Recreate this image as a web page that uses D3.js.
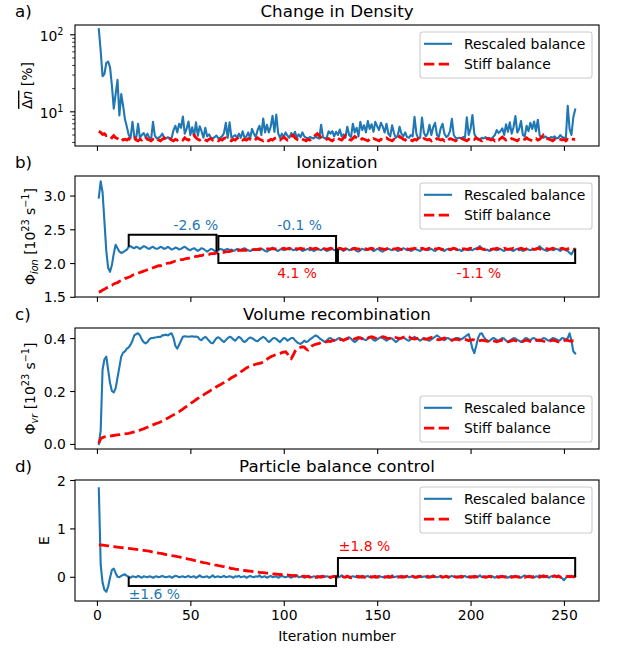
<!DOCTYPE html>
<html><head><meta charset="utf-8">
<script src="https://cdn.jsdelivr.net/npm/d3@7"></script>
<style>
body{margin:0;background:#fff;}
text{font-family:"DejaVu Sans",sans-serif;}
</style></head><body>
<svg id="chart" width="619" height="650"></svg>
<script>
// ---------------- DATA ----------------
const iterations = d3.range(1, 257);
const xTicks = [0, 50, 100, 150, 200, 250];
const seriesNames = ["Rescaled balance", "Stiff balance"];
const panelTitles = ["Change in Density", "Ionization", "Volume recombination", "Particle balance control"];
const panelLetters = ["a)", "b)", "c)", "d)"];

const densityRescaled = [
118,62,29,31,43,45,38,22,11,17,26,9,17,12,8,6.4,
5.0,4.6,7.4,4.8,4.5,7.0,4.6,5.0,5.3,4.7,5.2,4.6,4.4,7.4,4.9,4.5,
4.6,4.8,5.2,4.6,4.5,4.7,4.4,4.6,5.8,6.6,5.4,7.0,6.2,8.7,5.2,6.0,
7.5,5.0,6.3,4.8,7.3,4.9,6.5,5.6,4.6,6.2,4.8,5.1,4.6,4.5,4.7,4.9,
4.5,4.6,4.8,5.3,7.2,4.6,7.3,4.6,4.8,5.0,4.6,5.2,4.6,5.6,4.6,4.8,
5.4,4.5,6.0,5.2,4.7,5.8,6.6,5.0,8.2,5.4,6.8,5.4,6.4,8.9,5.5,9.2,
5.3,4.6,5.2,4.7,5.4,4.9,4.6,5.3,4.8,5.5,4.6,5.1,4.7,5.4,4.8,4.6,
4.5,4.7,4.6,4.5,4.8,4.6,4.5,6.8,4.7,4.5,4.6,5.6,5.2,5.6,4.8,5.5,
5.0,5.9,4.8,5.1,4.6,6.4,5.0,4.7,7.0,5.4,6.2,4.8,7.4,5.8,6.7,5.4,
7.6,6.0,6.9,5.5,7.4,6.5,5.8,7.2,6.4,5.4,7.0,5.2,4.8,6.7,5.3,4.6,
4.9,6.4,5.2,4.8,5.4,4.7,4.6,5.0,4.8,8.6,5.2,4.5,4.6,8.4,5.4,4.8,
5.2,6.8,5.0,6.3,7.2,5.0,4.7,6.1,7.0,5.2,4.7,4.9,5.6,8.1,5.0,4.6,
4.5,4.6,4.5,4.7,4.6,8.5,5.0,6.0,9.1,5.2,4.6,4.5,4.4,4.6,4.5,4.7,
4.5,4.6,4.4,4.7,5.0,5.8,5.3,5.6,6.1,5.0,6.9,5.5,7.3,5.2,6.3,8.8,
5.4,6.0,7.6,5.0,4.8,6.6,5.6,7.2,6.0,7.5,5.6,7.9,4.9,4.7,4.6,4.8,
4.6,4.5,4.7,4.6,4.8,4.5,4.6,5.0,4.7,4.6,4.5,12.0,6.0,5.0,8.5,10.7];

const densityStiff = [
5.6,5.4,5.1,5.2,4.9,5.0,4.8,4.6,4.9,4.6,4.5,4.4,4.6,4.3,4.4,4.3,
4.5,4.3,4.4,4.6,4.3,4.2,4.4,4.3,4.5,4.7,4.4,4.3,4.2,4.4,4.3,4.5,
4.3,4.2,4.4,4.6,4.4,4.3,4.5,4.3,4.2,4.4,4.3,4.5,4.4,4.3,4.6,4.4,
4.3,4.5,4.8,5.0,4.6,4.4,4.3,4.5,4.4,4.3,4.2,4.4,4.5,4.3,4.4,4.3,
4.2,4.4,4.3,4.5,4.6,4.4,4.3,4.2,4.4,4.3,4.5,4.7,4.5,4.3,4.4,4.3,
4.5,4.4,4.3,4.2,4.4,4.6,4.4,4.3,4.2,4.4,4.3,4.2,4.4,4.3,4.5,4.6,
4.4,4.3,4.5,4.7,4.5,4.3,4.4,4.8,5.0,4.6,4.4,4.3,4.5,4.4,4.3,4.2,
4.4,4.3,4.5,4.7,5.0,5.2,4.9,4.6,4.4,4.3,4.4,4.5,4.3,4.2,4.4,4.3,
4.5,4.4,4.3,4.6,4.9,4.6,4.4,4.3,4.5,4.8,4.6,4.4,4.3,4.5,4.4,4.3,
4.2,4.4,4.3,4.5,4.4,4.3,4.2,4.4,4.3,4.5,4.6,4.4,4.3,4.2,4.4,4.3,
4.5,4.8,4.6,4.4,4.3,4.5,4.4,4.3,4.2,4.4,4.3,4.5,4.4,4.3,4.5,4.4,
4.3,4.4,4.2,4.4,4.3,4.5,4.4,4.3,4.4,4.2,4.4,4.3,4.5,4.4,4.3,4.2,
4.4,4.3,4.5,4.4,4.3,4.2,4.4,4.3,4.5,4.4,4.6,4.4,4.3,4.2,4.4,4.3,
4.5,4.4,4.3,4.4,4.2,4.4,4.3,4.5,4.7,4.5,4.3,4.4,4.3,4.5,4.4,4.3,
4.2,4.4,4.3,4.5,4.4,4.6,4.4,4.3,4.2,4.4,4.5,4.3,4.4,4.7,5.0,4.7,
4.5,4.4,4.3,4.2,4.4,4.3,4.5,4.4,4.3,4.4,4.2,4.4,4.3,4.5,4.4,4.4];

const ionRescaled = [
2.97,3.21,3.05,2.62,2.18,1.93,1.87,1.97,2.14,2.27,2.22,2.17,2.15,2.16,2.18,2.20,
2.24,2.25,2.23,2.22,2.24,2.23,2.21,2.23,2.25,2.24,2.22,2.21,2.23,2.24,2.22,2.21,
2.22,2.24,2.23,2.21,2.22,2.24,2.22,2.20,2.21,2.23,2.22,2.20,2.21,2.23,2.24,2.22,
2.20,2.19,2.21,2.22,2.20,2.18,2.20,2.22,2.21,2.19,2.17,2.19,2.21,2.20,2.18,2.17,
2.19,2.21,2.20,2.19,2.20,2.21,2.19,2.20,2.18,2.19,2.21,2.20,2.19,2.21,2.22,2.20,
2.19,2.18,2.19,2.20,2.21,2.20,2.19,2.21,2.20,2.18,2.17,2.19,2.20,2.23,2.21,2.19,
2.18,2.20,2.21,2.19,2.20,2.21,2.20,2.21,2.19,2.20,2.19,2.21,2.20,2.18,2.19,2.20,
2.21,2.19,2.20,2.18,2.19,2.21,2.20,2.19,2.21,2.20,2.18,2.19,2.20,2.21,2.19,2.20,
2.19,2.21,2.20,2.18,2.20,2.21,2.19,2.20,2.22,2.20,2.18,2.17,2.19,2.21,2.20,2.19,
2.20,2.22,2.20,2.18,2.19,2.21,2.20,2.18,2.17,2.19,2.20,2.21,2.20,2.19,2.21,2.20,
2.18,2.19,2.20,2.22,2.21,2.19,2.20,2.18,2.19,2.21,2.20,2.19,2.18,2.20,2.21,2.20,
2.19,2.20,2.21,2.19,2.18,2.20,2.21,2.20,2.19,2.18,2.20,2.21,2.19,2.20,2.21,2.20,
2.19,2.20,2.18,2.19,2.21,2.20,2.19,2.20,2.19,2.21,2.21,2.23,2.25,2.22,2.20,2.19,
2.20,2.18,2.19,2.21,2.20,2.19,2.20,2.21,2.19,2.18,2.20,2.21,2.20,2.19,2.18,2.20,
2.21,2.19,2.20,2.18,2.19,2.21,2.20,2.19,2.20,2.21,2.20,2.22,2.25,2.22,2.20,2.19,
2.18,2.20,2.21,2.19,2.20,2.21,2.20,2.18,2.20,2.21,2.19,2.18,2.15,2.13,2.18,2.21];

const ionStiff = [
1.57,1.58,1.60,1.61,1.63,1.64,1.66,1.67,1.69,1.70,1.71,1.73,1.74,1.75,1.77,1.78,
1.79,1.80,1.82,1.83,1.84,1.85,1.86,1.87,1.88,1.89,1.90,1.91,1.92,1.93,1.94,1.95,
1.96,1.96,1.97,1.98,1.99,2.00,2.00,2.01,2.02,2.03,2.03,2.04,2.05,2.05,2.06,2.07,
2.07,2.08,2.08,2.09,2.10,2.10,2.11,2.11,2.12,2.12,2.13,2.13,2.14,2.14,2.14,2.15,
2.15,2.16,2.16,2.16,2.17,2.17,2.17,2.18,2.18,2.18,2.18,2.19,2.19,2.19,2.19,2.19,
2.20,2.20,2.20,2.20,2.20,2.20,2.21,2.21,2.21,2.21,2.21,2.21,2.21,2.21,2.21,2.21,
2.21,2.21,2.21,2.22,2.21,2.21,2.22,2.21,2.21,2.22,2.21,2.21,2.22,2.21,2.21,2.22,
2.21,2.22,2.21,2.21,2.22,2.21,2.20,2.21,2.22,2.21,2.20,2.21,2.22,2.21,2.20,2.21,
2.21,2.22,2.21,2.20,2.21,2.22,2.21,2.20,2.21,2.22,2.21,2.21,2.20,2.21,2.22,2.21,
2.20,2.21,2.22,2.21,2.20,2.21,2.22,2.21,2.21,2.20,2.21,2.22,2.21,2.20,2.21,2.21,
2.22,2.21,2.20,2.21,2.22,2.21,2.20,2.21,2.21,2.22,2.21,2.20,2.21,2.22,2.21,2.20,
2.21,2.22,2.21,2.20,2.21,2.21,2.22,2.21,2.20,2.21,2.22,2.21,2.20,2.21,2.22,2.21,
2.20,2.21,2.22,2.21,2.21,2.20,2.21,2.22,2.21,2.20,2.21,2.21,2.22,2.21,2.20,2.21,
2.22,2.21,2.20,2.21,2.21,2.22,2.21,2.20,2.21,2.22,2.21,2.20,2.21,2.21,2.22,2.21,
2.20,2.21,2.22,2.21,2.20,2.21,2.22,2.21,2.21,2.20,2.21,2.22,2.21,2.20,2.21,2.22,
2.21,2.20,2.21,2.22,2.21,2.20,2.21,2.21,2.22,2.21,2.20,2.21,2.22,2.21,2.20,2.21];

const recRescaled = [
0.0,0.05,0.28,0.32,0.33,0.28,0.23,0.20,0.195,0.21,0.25,0.29,0.33,0.345,0.35,0.36,
0.365,0.375,0.39,0.41,0.415,0.418,0.41,0.395,0.385,0.38,0.385,0.395,0.40,0.40,0.402,0.403,
0.405,0.404,0.41,0.411,0.413,0.41,0.415,0.418,0.40,0.37,0.36,0.375,0.39,0.405,0.407,0.406,
0.405,0.406,0.407,0.405,0.406,0.404,0.395,0.392,0.40,0.405,0.398,0.39,0.382,0.38,0.39,0.40,
0.403,0.398,0.39,0.385,0.392,0.40,0.405,0.402,0.395,0.39,0.398,0.405,0.40,0.39,0.385,0.39,
0.398,0.402,0.40,0.395,0.39,0.388,0.395,0.40,0.405,0.40,0.392,0.385,0.39,0.398,0.40,0.397,
0.39,0.385,0.393,0.40,0.398,0.39,0.395,0.40,0.40,0.392,0.385,0.38,0.378,0.383,0.39,0.385,
0.388,0.395,0.40,0.405,0.41,0.407,0.40,0.395,0.39,0.385,0.39,0.398,0.40,0.395,0.39,0.393,
0.398,0.40,0.395,0.39,0.395,0.40,0.403,0.398,0.39,0.385,0.39,0.398,0.402,0.40,0.395,0.392,
0.398,0.405,0.40,0.393,0.39,0.395,0.40,0.403,0.40,0.395,0.39,0.395,0.40,0.398,0.392,0.385,
0.39,0.397,0.40,0.402,0.398,0.393,0.39,0.395,0.40,0.405,0.40,0.395,0.39,0.395,0.40,0.398,
0.393,0.39,0.395,0.40,0.405,0.41,0.405,0.40,0.395,0.392,0.398,0.40,0.395,0.39,0.395,0.40,
0.40,0.398,0.395,0.40,0.405,0.41,0.415,0.39,0.36,0.343,0.37,0.40,0.415,0.418,0.405,0.395,
0.39,0.388,0.395,0.40,0.398,0.393,0.39,0.395,0.40,0.398,0.39,0.385,0.39,0.395,0.40,0.398,
0.393,0.39,0.385,0.39,0.398,0.40,0.395,0.392,0.398,0.40,0.396,0.39,0.388,0.395,0.40,0.398,
0.393,0.39,0.395,0.40,0.398,0.395,0.39,0.393,0.40,0.398,0.395,0.40,0.418,0.39,0.35,0.342];

const recStiff = [
0.003,0.02,0.024,0.027,0.028,0.029,0.030,0.031,0.032,0.033,0.034,0.035,0.036,0.037,0.038,0.039,
0.040,0.042,0.044,0.046,0.048,0.050,0.052,0.055,0.057,0.060,0.063,0.066,0.069,0.072,0.075,0.078,
0.080,0.083,0.086,0.090,0.094,0.098,0.102,0.106,0.110,0.114,0.118,0.122,0.127,0.132,0.137,0.142,
0.147,0.152,0.157,0.162,0.167,0.172,0.176,0.181,0.185,0.190,0.194,0.198,0.203,0.207,0.211,0.216,
0.220,0.224,0.228,0.232,0.236,0.240,0.245,0.250,0.254,0.258,0.262,0.267,0.272,0.277,0.282,0.287,
0.291,0.294,0.297,0.299,0.301,0.303,0.304,0.306,0.310,0.315,0.320,0.325,0.329,0.332,0.335,0.338,
0.340,0.342,0.345,0.347,0.348,0.340,0.325,0.322,0.335,0.350,0.358,0.362,0.365,0.367,0.366,0.358,
0.355,0.362,0.370,0.374,0.376,0.378,0.380,0.383,0.385,0.384,0.386,0.388,0.387,0.390,0.392,0.391,
0.393,0.395,0.394,0.392,0.395,0.398,0.40,0.398,0.395,0.397,0.40,0.402,0.40,0.397,0.395,0.398,
0.40,0.403,0.405,0.403,0.40,0.398,0.40,0.403,0.405,0.404,0.40,0.398,0.40,0.403,0.405,0.402,
0.40,0.398,0.40,0.403,0.405,0.407,0.405,0.40,0.398,0.396,0.398,0.40,0.402,0.40,0.397,0.395,
0.397,0.40,0.402,0.40,0.397,0.395,0.393,0.395,0.398,0.40,0.398,0.395,0.393,0.392,0.394,0.396,
0.395,0.393,0.392,0.394,0.395,0.393,0.39,0.392,0.394,0.393,0.39,0.388,0.39,0.392,0.391,0.389,
0.388,0.39,0.392,0.39,0.388,0.386,0.388,0.39,0.392,0.39,0.388,0.386,0.387,0.39,0.392,0.39,
0.388,0.386,0.385,0.387,0.39,0.392,0.39,0.387,0.385,0.387,0.39,0.392,0.393,0.39,0.388,0.386,
0.385,0.387,0.39,0.392,0.39,0.388,0.386,0.385,0.387,0.39,0.392,0.391,0.389,0.388,0.39,0.39];

const controlRescaled = [
1.83,0.25,-0.12,-0.27,-0.31,-0.20,-0.02,0.14,0.17,0.08,0.0,-0.01,0.02,0.04,0.05,0.02,
0.0,-0.02,0.01,0.0,-0.01,0.02,0.0,-0.02,0.01,0.0,-0.01,0.01,0.0,-0.02,0.0,0.01,
-0.01,0.0,0.02,0.0,-0.01,0.0,0.01,-0.02,0.0,0.02,0.01,-0.01,0.0,0.01,-0.01,0.0,
0.02,-0.01,0.0,0.01,-0.02,0.0,0.03,0.0,-0.01,0.0,0.01,-0.02,0.0,0.03,-0.01,0.0,
0.01,-0.01,0.0,0.02,-0.01,0.0,0.01,0.0,-0.02,0.01,0.0,0.02,-0.01,0.0,0.01,-0.02,
0.0,0.02,0.0,-0.01,0.01,0.0,0.03,-0.01,0.0,0.01,-0.02,0.0,0.02,-0.01,0.0,0.01,
-0.02,0.0,0.02,0.0,-0.01,0.01,0.0,-0.02,0.01,0.0,0.03,-0.01,0.0,0.01,-0.02,0.0,
0.02,0.0,-0.01,0.01,0.0,-0.02,0.0,0.02,-0.01,0.0,0.01,0.0,-0.02,0.01,0.0,0.02,
-0.01,0.0,0.03,-0.01,0.0,0.02,-0.02,0.0,0.01,0.0,-0.01,0.02,0.0,-0.02,0.01,0.0,
0.02,-0.01,0.0,0.01,-0.02,0.0,0.02,0.0,-0.01,0.01,0.0,-0.02,0.0,0.03,-0.01,0.0,
0.01,0.0,-0.02,0.01,0.0,0.02,-0.01,0.0,0.01,-0.02,0.0,0.02,0.0,-0.01,0.01,0.0,
-0.02,0.0,0.01,0.03,0.0,-0.01,0.0,0.02,-0.01,0.0,0.01,-0.02,0.0,0.02,0.0,-0.01,
0.01,0.0,-0.02,0.0,0.02,-0.01,0.0,0.01,0.0,-0.02,0.01,0.0,0.03,-0.01,0.0,0.01,
-0.01,0.0,0.02,0.0,-0.02,0.01,0.0,0.02,-0.01,0.0,0.01,-0.02,0.0,0.02,0.0,-0.01,
0.01,0.0,-0.02,0.01,0.03,0.0,-0.01,0.02,0.0,-0.02,0.01,0.0,0.03,0.01,-0.01,0.02,
0.0,-0.02,0.01,0.0,0.02,-0.01,0.03,0.0,-0.03,-0.07,-0.02,0.01,0.02,0.0,0.01,0.0];

const controlStiff = [
0.66,0.66,0.655,0.65,0.645,0.64,0.635,0.63,0.625,0.62,0.615,0.61,0.605,0.60,0.595,0.59,
0.585,0.58,0.575,0.57,0.565,0.56,0.555,0.55,0.545,0.54,0.535,0.53,0.52,0.51,0.505,0.50,
0.49,0.485,0.48,0.47,0.46,0.455,0.45,0.44,0.43,0.425,0.415,0.41,0.40,0.39,0.385,0.375,
0.365,0.36,0.35,0.34,0.33,0.32,0.31,0.305,0.295,0.29,0.28,0.27,0.26,0.255,0.245,0.24,
0.23,0.225,0.215,0.21,0.20,0.195,0.185,0.17,0.17,0.16,0.155,0.15,0.14,0.135,0.13,0.125,
0.12,0.115,0.11,0.105,0.10,0.095,0.09,0.088,0.085,0.08,0.075,0.072,0.068,0.06,0.058,0.055,
0.05,0.048,0.045,0.042,0.038,0.04,0.032,0.028,0.022,0.03,0.018,0.012,0.02,0.008,0.015,0.0,
0.01,-0.01,0.01,0.0,-0.015,0.005,0.0,-0.01,0.01,0.0,-0.01,0.01,-0.015,0.0,0.01,-0.01,
0.0,-0.02,0.01,0.0,-0.01,0.01,0.0,-0.02,-0.01,0.0,0.01,-0.01,0.0,0.01,-0.01,-0.02,
0.0,0.01,-0.01,0.0,0.01,-0.01,0.0,0.01,0.0,-0.01,0.0,0.01,-0.01,0.0,0.01,0.0,
-0.01,0.0,0.01,-0.01,0.0,0.01,0.0,-0.01,0.01,0.0,-0.01,0.0,0.01,0.0,-0.01,0.0,
0.01,-0.01,0.0,0.01,0.0,-0.01,0.0,0.01,-0.01,0.0,0.01,0.0,-0.01,0.0,0.01,0.0,
-0.01,0.0,0.01,0.0,-0.01,0.01,0.0,-0.01,0.0,0.01,0.0,-0.01,0.0,0.01,0.0,-0.01,
0.0,0.01,0.0,-0.01,0.01,0.0,-0.01,0.0,0.01,0.0,-0.01,0.01,0.0,-0.01,0.0,0.01,
0.0,-0.01,0.01,0.0,-0.01,0.0,0.01,0.0,-0.01,0.01,0.02,0.0,-0.01,0.01,0.02,0.0,
0.01,-0.01,0.0,0.01,0.02,0.0,0.01,-0.01,0.0,0.01,0.0,0.01,0.0,0.01,0.0,0.0];

// Panel b annotations (iteration ranges, bracket level, deviation labels)
const ionBracketStart = [17, 65, 65, 129];
const ionBracketEnd   = [64, 128, 128, 256];
const ionBracketLevel = [2.42, 2.40, 2.0, 2.0];
const ionBracketSeries = [0, 0, 1, 1];
const ionLabelText = ["-2.6 %", "-0.1 %", "4.1 %", "-1.1 %"];
const ionLabelX = [41, 96.5, 96.5, 192.5];
const ionLabelY = [2.49, 2.49, 1.78, 1.78];

// Panel d annotations
const ctrlBracketStart = [17, 129];
const ctrlBracketEnd   = [128, 256];
const ctrlBracketLevel = [-0.19, 0.39];
const ctrlBracketSeries = [0, 1];
const ctrlLabelText = ["\u00b11.6 %", "\u00b11.8 %"];
const ctrlLabelX = [17, 129.5];
const ctrlLabelY = [-0.46, 0.54];

// ---------------- DRAWING ----------------
const BLUE = "#1f77b4", RED = "#ff0000";
const COLORS = [BLUE, RED];
const FS = 13.9, TFS = 16.7;
const LEFT = 75, RIGHT = 599;
const svg = d3.select("#chart");

const x = d3.scaleLinear().domain([-11.75, 268.75]).range([LEFT, RIGHT]);

const panels = [
  {top: 25, bottom: 146, log: true, domain: [3.6, 134], series: [densityRescaled, densityStiff], legend: "top"},
  {top: 176, bottom: 297, domain: [1.497, 3.29], ticks: [1.5, 2.0, 2.5, 3.0], fmt: d3.format(".1f"), series: [ionRescaled, ionStiff], legend: "top"},
  {top: 328, bottom: 449, domain: [-0.019, 0.438], ticks: [0.0, 0.2, 0.4], fmt: d3.format(".1f"), series: [recRescaled, recStiff], legend: "bottom"},
  {top: 480, bottom: 601, domain: [-0.5, 2], ticks: [0, 1, 2], fmt: d3.format("d"), series: [controlRescaled, controlStiff], legend: "top"}
];

panels.forEach((p, pi) => {
  const y = p.log ? d3.scaleLog().domain(p.domain).range([p.bottom, p.top])
                  : d3.scaleLinear().domain(p.domain).range([p.bottom, p.top]);
  p.y = y;
  const g = svg.append("g");
  const clipId = "clip" + pi;
  svg.append("clipPath").attr("id", clipId).append("rect")
    .attr("x", LEFT).attr("y", p.top).attr("width", RIGHT - LEFT).attr("height", p.bottom - p.top);

  // x axis ticks
  const xa = d3.axisBottom(x).tickValues(xTicks).tickSizeInner(4.9).tickSizeOuter(0).tickPadding(4.2)
    .tickFormat(pi === 3 ? d3.format("d") : () => "");
  const gx = g.append("g").attr("transform", `translate(0,${p.bottom})`).call(xa);
  gx.select(".domain").remove();
  gx.selectAll("line").attr("stroke", "#000").attr("stroke-width", 1.1);
  gx.selectAll("text").attr("font-size", FS).attr("fill", "#000").attr("font-family", "DejaVu Sans");

  // y axis
  if (p.log) {
    const minor = [4,5,6,7,8,9,20,30,40,50,60,70,80,90];
    g.selectAll(".minor").data(minor).enter().append("line")
      .attr("x1", LEFT).attr("x2", LEFT - 2.8).attr("y1", d => y(d)).attr("y2", d => y(d))
      .attr("stroke", "#000").attr("stroke-width", 0.8);
    const majors = [[10, "1"], [100, "2"]];
    majors.forEach(([v, e]) => {
      g.append("line").attr("x1", LEFT).attr("x2", LEFT - 4.9).attr("y1", y(v)).attr("y2", y(v))
        .attr("stroke", "#000").attr("stroke-width", 1.1);
      const t = g.append("text").attr("x", 63.5).attr("y", y(v) + 6).attr("text-anchor", "end")
        .attr("font-size", FS).attr("fill", "#000");
      t.append("tspan").text("10");
      t.append("tspan").attr("dy", -5.5).attr("font-size", 9.7).text(e);
    });
  } else {
    const ya = d3.axisLeft(y).tickValues(p.ticks).tickSizeInner(4.9).tickSizeOuter(0).tickPadding(4.2).tickFormat(p.fmt);
    const gy = g.append("g").attr("transform", `translate(${LEFT},0)`).call(ya);
    gy.select(".domain").remove();
    gy.selectAll("line").attr("stroke", "#000").attr("stroke-width", 1.1);
    gy.selectAll("text").attr("font-size", FS).attr("fill", "#000").attr("font-family", "DejaVu Sans").attr("dy", "0.36em");
  }

  // lines
  const line = d3.line().x((d, i) => x(iterations[i])).y(d => y(d));
  const lg = g.append("g").attr("clip-path", `url(#${clipId})`);
  lg.append("path").attr("d", line(p.series[0])).attr("fill", "none")
    .attr("stroke", BLUE).attr("stroke-width", 2.1).attr("stroke-linejoin", "round").attr("stroke-linecap", "square");
  lg.append("path").attr("d", line(p.series[1])).attr("fill", "none")
    .attr("stroke", RED).attr("stroke-width", 2.8).attr("stroke-dasharray", "10.3,4.4");
  p.lines = lg;

  // spines
  g.append("rect").attr("x", LEFT).attr("y", p.top).attr("width", RIGHT - LEFT).attr("height", p.bottom - p.top)
    .attr("fill", "none").attr("stroke", "#000").attr("stroke-width", 1.1);

  // title and letter
  g.append("text").attr("x", (LEFT + RIGHT) / 2).attr("y", p.top - 8.3).attr("text-anchor", "middle")
    .attr("font-size", TFS).attr("fill", "#000").text(panelTitles[pi]);
  g.append("text").attr("x", 15).attr("y", p.top - 8.3).attr("font-size", TFS).attr("fill", "#000").text(panelLetters[pi]);

  // legend
  const lw = 172, lh = 46;
  const lx = RIGHT - 7 - lw;
  const ly = p.legend === "top" ? p.top + 7 : p.bottom - 7 - lh;
  const leg = g.append("g");
  leg.append("rect").attr("x", lx).attr("y", ly).attr("width", lw).attr("height", lh).attr("rx", 2.8)
    .attr("fill", "#fff").attr("fill-opacity", 0.8).attr("stroke", "#cccccc").attr("stroke-width", 1.1);
  seriesNames.forEach((nm, k) => {
    const ry = ly + 11.8 + k * 20.3;
    leg.append("line").attr("x1", lx + 4).attr("x2", lx + 32).attr("y1", ry).attr("y2", ry)
      .attr("stroke", COLORS[k]).attr("stroke-width", k === 0 ? 2.1 : 2.8)
      .attr("stroke-dasharray", k === 0 ? null : "10.3,4.4");
    leg.append("text").attr("x", lx + 44).attr("y", ry + 5.2).attr("font-size", FS).attr("fill", "#000").text(nm);
  });
});

// y labels
function rotLabel(xp, yp) {
  return svg.append("text").attr("transform", `translate(${xp},${yp}) rotate(-90)`)
    .attr("text-anchor", "middle").attr("font-size", FS).attr("fill", "#000");
}
{
  const t = rotLabel(32, (25 + 146) / 2);
  const ov = t.append("tspan").attr("text-decoration", "overline");
  ov.append("tspan").text("\u0394");
  ov.append("tspan").attr("font-style", "italic").text("n");
  t.append("tspan").text(" [%]");
}
function fluxLabel(yp, sub) {
  const t = rotLabel(34.5, yp);
  t.append("tspan").text("\u03a6");
  t.append("tspan").attr("font-size", 9.7).attr("font-style", "italic").attr("dy", 3).text(sub);
  t.append("tspan").attr("dy", -3).text(" [10");
  t.append("tspan").attr("font-size", 9.7).attr("dy", -6).text("23");
  t.append("tspan").attr("dy", 6).text(" s");
  t.append("tspan").attr("font-size", 9.7).attr("dy", -6).text("\u22121");
  t.append("tspan").attr("dy", 6).text("]");
}
fluxLabel((176 + 297) / 2, "ion");
fluxLabel((328 + 449) / 2, "vr");
rotLabel(48.5, (480 + 601) / 2).text("E");

// x label
svg.append("text").attr("x", (LEFT + RIGHT) / 2).attr("y", 641).attr("text-anchor", "middle")
  .attr("font-size", FS).attr("fill", "#000").text("Iteration number");

// brackets & labels
function drawBrackets(p, starts, ends, levels, sers, texts, tx, ty) {
  const y = p.y;
  starts.forEach((s, i) => {
    const vals = p.series[sers[i]];
    const e = ends[i];
    const path = d3.path();
    path.moveTo(x(s), y(vals[s - 1]));
    path.lineTo(x(s), y(levels[i]));
    path.lineTo(x(e), y(levels[i]));
    path.lineTo(x(e), y(vals[e - 1]));
    svg.append("path").attr("d", path.toString()).attr("fill", "none").attr("stroke", "#000").attr("stroke-width", 2);
  });
  texts.forEach((t, i) => {
    svg.append("text").attr("x", x(tx[i])).attr("y", y(ty[i])).attr("font-size", FS)
      .attr("fill", COLORS[i < texts.length / 2 ? 0 : 1]).text(t);
  });
}
drawBrackets(panels[1], ionBracketStart, ionBracketEnd, ionBracketLevel, ionBracketSeries, ionLabelText, ionLabelX, ionLabelY);
drawBrackets(panels[3], ctrlBracketStart, ctrlBracketEnd, ctrlBracketLevel, ctrlBracketSeries, ctrlLabelText, ctrlLabelX, ctrlLabelY);
</script>
</body></html>
